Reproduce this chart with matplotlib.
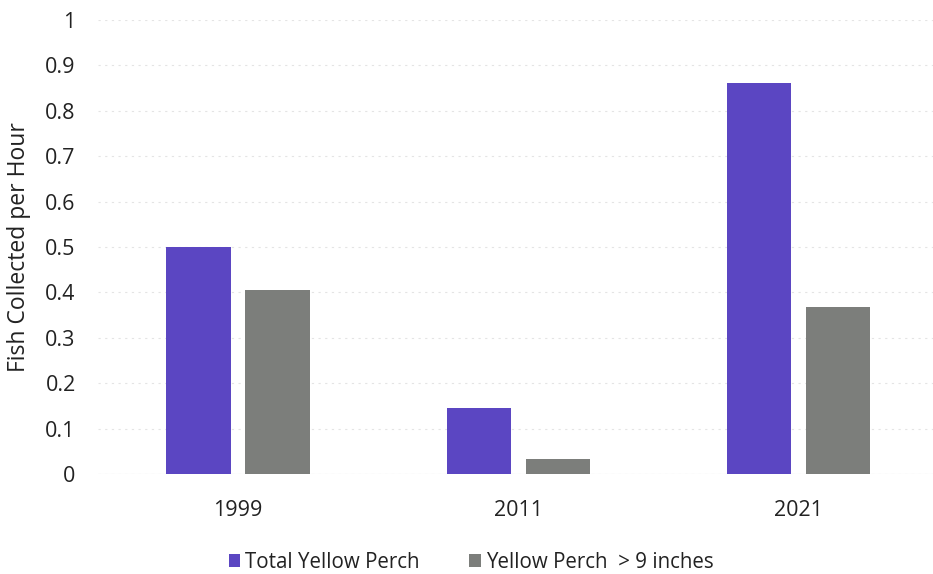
import matplotlib
matplotlib.use("Agg")
import matplotlib.pyplot as plt
import numpy as np

# ── data ─────────────────────────────────────────────────────────────────────
years = ["1999", "2011", "2021"]
total_perch = [0.50, 0.145, 0.862]
perch_over_9 = [0.405, 0.033, 0.368]
y_ticks = [0, 0.1, 0.2, 0.3, 0.4, 0.5, 0.6, 0.7, 0.8, 0.9, 1]
y_tick_labels = ["0", "0.1", "0.2", "0.3", "0.4", "0.5", "0.6", "0.7", "0.8", "0.9", "1"]

PURPLE = "#5b46c2"
GRAY = "#7c7e7b"

plt.rcParams['font.family'] = ['Open Sans', 'DejaVu Sans']

fig = plt.figure(figsize=(9.33, 5.74), dpi=100)
ax = fig.add_axes([0.105, 0.1742, 0.901, 0.7911])

x = np.arange(len(years))
width = 0.23
off = 0.141

ax.bar(x - off, total_perch, width, color=PURPLE, label="Total Yellow Perch", zorder=3)
ax.bar(x + off, perch_over_9, width, color=GRAY, label="Yellow Perch  > 9 inches", zorder=3)

ax.set_xlim(-0.5, 2.5)
ax.set_ylim(0, 1)
ax.set_yticks(y_ticks)
ax.set_yticklabels(y_tick_labels)
ax.set_xticks(x)
ax.set_xticklabels(years)
ax.tick_params(axis='both', length=0, labelsize=15.5, colors='#222222')
ax.tick_params(axis='y', pad=16)
ax.tick_params(axis='x', pad=19)

ax.grid(axis='y', color='#e4e4e4', linestyle=(0, (2, 4)), linewidth=0.8, zorder=0)
for s in ax.spines.values():
    s.set_visible(False)
ax.axhline(0, color='#e8e8e8', linewidth=0.8, zorder=1)

ax.set_ylabel("Fish Collected per Hour", fontsize=16.5, color='#222222', labelpad=10)

fig.legend(loc='lower center', bbox_to_anchor=(0.505, -0.03), ncol=2, frameon=False,
           fontsize=14.8, handlelength=0.55, handleheight=0.55, handletextpad=0.25,
           columnspacing=2.4, labelcolor='#222222')

fig.savefig("out.png", dpi=100)
